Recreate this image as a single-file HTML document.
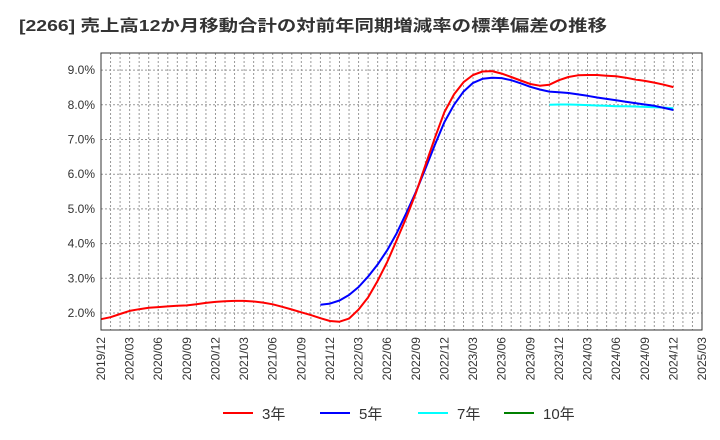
<!DOCTYPE html>
<html><head><meta charset="utf-8"><style>
body{margin:0;background:#fff;}
svg{display:block;font-family:"Liberation Sans","Noto Sans CJK JP",sans-serif;}
</style></head><body>
<svg id="c" width="720" height="440">
<text x="19" y="31" font-size="16" font-weight="bold" fill="#333" textLength="588" lengthAdjust="spacingAndGlyphs">[2266]  売上高12か月移動合計の対前年同期増減率の標準偏差の推移</text>
<g id="grid"></g>
<g id="series"></g>
<rect x="101" y="53" width="601" height="277" fill="none" stroke="#333" stroke-width="1"/>
<g id="legend"></g>
</svg>
<script>
const xLabels=["2019/12","2020/03","2020/06","2020/09","2020/12","2021/03","2021/06","2021/09","2021/12","2022/03","2022/06","2022/09","2022/12","2023/03","2023/06","2023/09","2023/12","2024/03","2024/06","2024/09","2024/12","2025/03"];
const yTicks=[2,3,4,5,6,7,8,9];
const s3Start=0;
const s3=[1.82,1.88,1.97,2.06,2.11,2.15,2.17,2.19,2.21,2.22,2.25,2.29,2.32,2.34,2.35,2.35,2.33,2.30,2.25,2.18,2.10,2.02,1.94,1.85,1.77,1.75,1.84,2.10,2.45,2.93,3.47,4.10,4.75,5.45,6.25,7.05,7.79,8.30,8.65,8.86,8.96,8.97,8.90,8.80,8.70,8.60,8.55,8.58,8.71,8.80,8.85,8.86,8.86,8.84,8.82,8.78,8.73,8.69,8.64,8.58,8.51];
const s5Start=23;
const s5=[2.24,2.27,2.36,2.52,2.75,3.05,3.40,3.81,4.30,4.88,5.48,6.15,6.85,7.50,8.00,8.38,8.63,8.75,8.78,8.77,8.71,8.62,8.52,8.44,8.38,8.36,8.34,8.30,8.26,8.21,8.17,8.13,8.09,8.05,8.01,7.97,7.91,7.85];
const s7Start=47;
const s7=[8.00,8.01,8.01,8.00,7.99,7.98,7.97,7.96,7.96,7.95,7.94,7.93,7.92,7.90];
const s10Start=0;
const s10=[];
const NS="http://www.w3.org/2000/svg";
const L=101,R=702,T=53,B=330,months=63;
const xs=i=>L+(R-L)*i/months;
const ys=v=>313-(v-2)*34.7;
function mk(tag,attrs,parent){const e=document.createElementNS(NS,tag);for(const k in attrs)e.setAttribute(k,attrs[k]);parent.appendChild(e);return e;}
const grid=document.getElementById('grid');
for(let i=1;i<months;i++){
 const l=mk('line',{x1:xs(i),x2:xs(i),y1:T,y2:B,stroke:'#999','stroke-dasharray':'2,2','stroke-width':1},grid);
 
 
}
yTicks.forEach(v=>{
 const l=mk('line',{x1:L,x2:R,y1:ys(v),y2:ys(v),stroke:'#999','stroke-dasharray':'2,2','stroke-width':1},grid);
 
 
 const t=mk('text',{x:L-6,y:ys(v)+4,'text-anchor':'end','font-size':12,fill:'#333'},grid);
 t.textContent=v.toFixed(1)+'%';
 
 
});
xLabels.forEach((lab,k)=>{
 const x=xs(k*3)+4;
 const t=mk('text',{x:x,y:337,'text-anchor':'end','font-size':12,fill:'#333',transform:`rotate(-90 ${x} 337)`},grid);
 t.textContent=lab;
 
 
});
const ser=document.getElementById('series');
function line(arr,start,color,name){
 if(!arr.length)return;
 const p=arr.map((v,i)=>(i?'L':'M')+xs(start+i).toFixed(1)+','+ys(v).toFixed(1)).join('');
 const e=mk('path',{d:p,fill:'none',stroke:color,'stroke-width':2,'stroke-linejoin':'round'},ser);
 
 
}
line(s7,s7Start,'#00ffff','series-7y');
line(s5,s5Start,'#0000ff','series-5y');
line(s3,s3Start,'#ff0000','series-3y');
line(s10,s10Start,'#008000','series-10y');
const lg=document.getElementById('legend');
[['3年','#ff0000',223],['5年','#0000ff',320],['7年','#00ffff',418],['10年','#008000',504]].forEach(([n,c,x])=>{
 const l=mk('line',{x1:x,x2:x+30,y1:413,y2:413,stroke:c,'stroke-width':2},lg);
 
 
 const t=mk('text',{x:x+39,y:419,'font-size':15,fill:'#333'},lg);
 t.textContent=n;
 
 
});
</script>
</body></html>
